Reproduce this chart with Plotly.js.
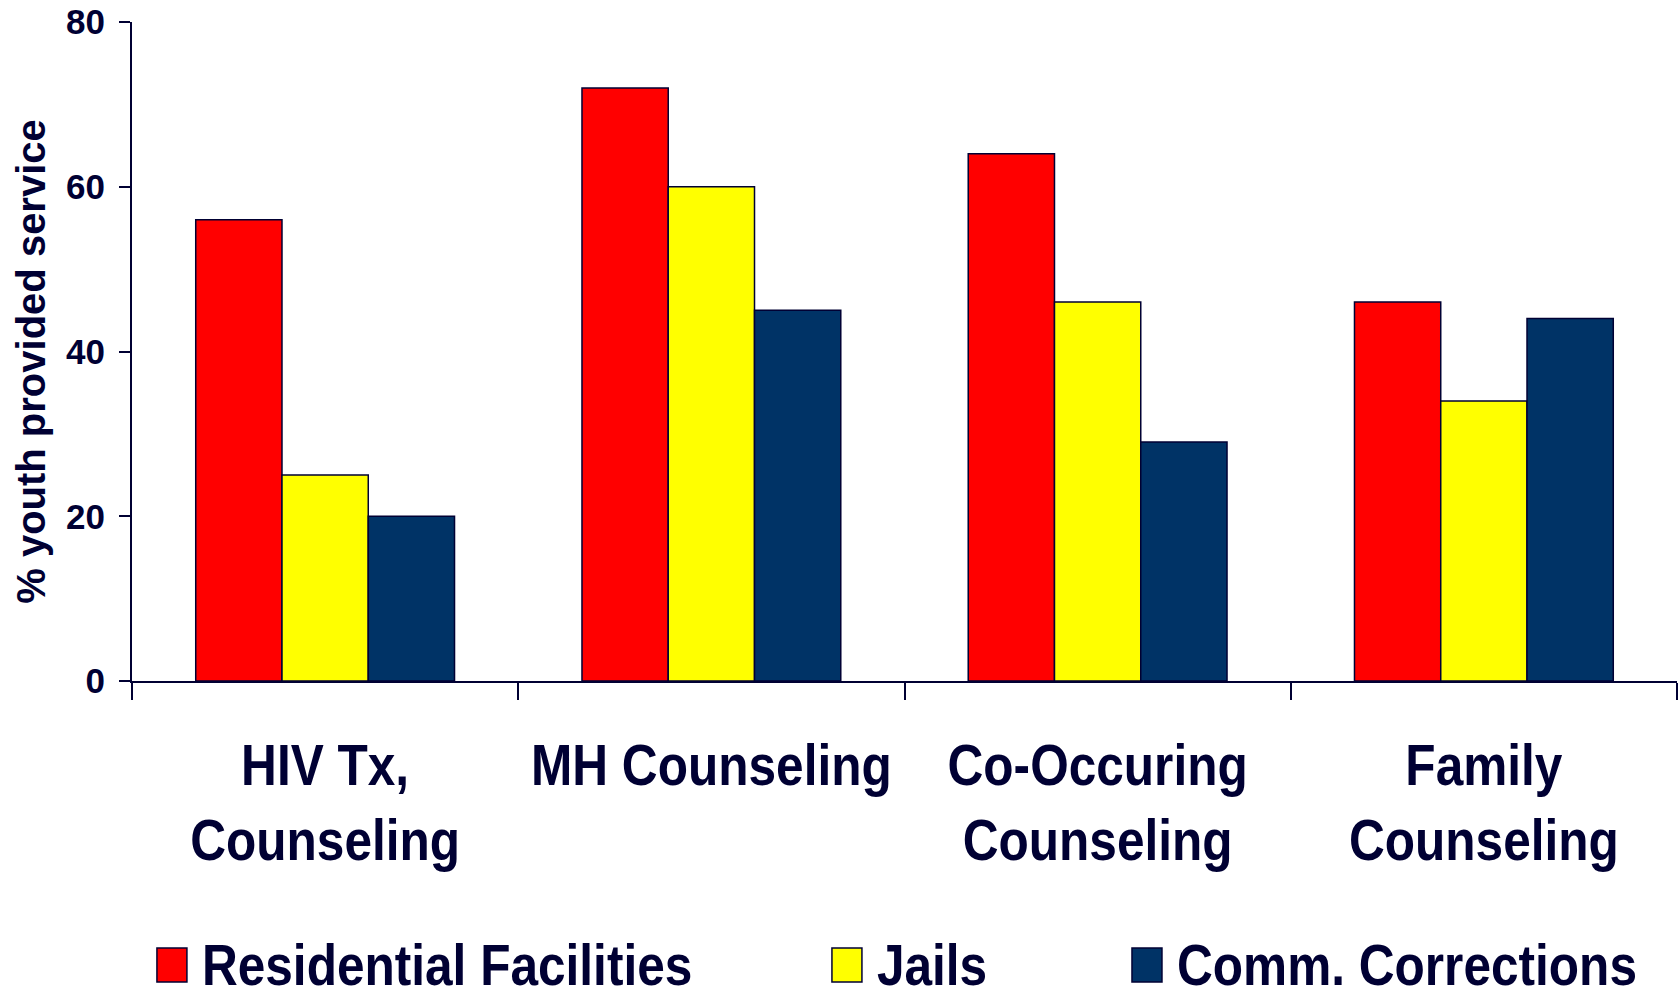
<!DOCTYPE html>
<html>
<head>
<meta charset="utf-8">
<script src="https://cdn.plot.ly/plotly-3.0.1.min.js"></script>
<style>
  html, body { margin: 0; padding: 0; background: #ffffff; }
  #chart { width: 1679px; height: 990px; }
  /* narrower set for the legend entries */
  #chart .legendtext,
  #chart .legend2text,
  #chart .legend3text {
    transform-box: fill-box;
    transform-origin: 0 50%;
    transform: scaleX(0.855);
  }
</style>
</head>
<body>
<div id="chart"></div>
<script>
// Services provided to youth, by setting (% of youth)
const categories = ['HIV Tx,<br>Counseling', 'MH Counseling', 'Co-Occuring<br>Counseling', 'Family<br>Counseling'];
const residential = [56, 72, 64, 46];
const jails = [25, 60, 46, 34];
const commCorrections = [20, 45, 29, 44];
const seriesNames = ['Residential Facilities', 'Jails', 'Comm. Corrections'];
const yTicks = [0, 20, 40, 60, 80];

const INK = '#000033';
const FONT = 'Arial, "Liberation Sans", sans-serif';
const CONDENSE = 0.855; // horizontal squeeze for the category labels

function barTrace(name, values, color, legendId) {
  return {
    type: 'bar',
    name: name,
    x: categories,
    y: values,
    legend: legendId,
    marker: { color: color, line: { color: INK, width: 1.5 } },
    hoverinfo: 'x+y+name'
  };
}

const data = [
  barTrace(seriesNames[0], residential, '#FF0000', 'legend'),
  barTrace(seriesNames[1], jails, '#FFFF00', 'legend2'),
  barTrace(seriesNames[2], commCorrections, '#003366', 'legend3')
];

const legendBase = {
  orientation: 'h',
  yanchor: 'middle',
  y: -0.4267,
  xanchor: 'left',
  itemwidth: 40,
  bgcolor: 'rgba(0,0,0,0)',
  font: { family: FONT, size: 58, weight: 700, color: INK }
};

const layout = {
  width: 1679,
  height: 990,
  paper_bgcolor: '#ffffff',
  plot_bgcolor: '#ffffff',
  margin: { l: 132, r: 2, t: 22, b: 309, autoexpand: false },
  barmode: 'group',
  bargap: 0.33,
  bargroupgap: 0,
  showlegend: true,
  legend: Object.assign({}, legendBase, { x: 0.0129 }),
  legend2: Object.assign({}, legendBase, { x: 0.4498 }),
  legend3: Object.assign({}, legendBase, { x: 0.6440 }),
  xaxis: {
    type: 'category',
    range: [-0.5, 3.5],
    tickson: 'boundaries',
    tickangle: 0,
    ticks: 'outside',
    ticklen: 17,
    tickwidth: 2,
    tickcolor: INK,
    showline: true,
    linecolor: INK,
    linewidth: 2,
    showgrid: false,
    zeroline: false,
    ticklabelstandoff: 32,
    tickfont: { family: FONT, size: 58, weight: 700, color: INK },
    automargin: false,
    fixedrange: true
  },
  yaxis: {
    range: [0, 80],
    tickvals: yTicks,
    ticktext: yTicks.map(String),
    ticks: 'outside',
    ticklen: 11,
    tickwidth: 2,
    tickcolor: INK,
    showline: true,
    linecolor: INK,
    linewidth: 2,
    showgrid: false,
    zeroline: false,
    ticklabelstandoff: 7,
    tickfont: { family: FONT, size: 35, weight: 700, color: INK },
    title: {
      text: '% youth provided service',
      standoff: 8,
      font: { family: FONT, size: 40, weight: 700, color: INK }
    },
    automargin: false,
    fixedrange: true
  }
};

const SQUEEZE_RE = / translate\([^)]*\) scale\([^)]*\) translate\([^)]*\)$/;
const NUDGE_RE = / translate\(-10,0\)$/;

// squeeze a text element horizontally about its own x anchor
function condense(el) {
  const cx = parseFloat(el.getAttribute('x')) || 0;
  const base = (el.getAttribute('transform') || '').replace(SQUEEZE_RE, '');
  el.setAttribute('transform',
    base + ' translate(' + cx + ',0) scale(' + CONDENSE + ',1) translate(' + (-cx) + ',0)');
}

function touchUp() {
  // larger legend swatches
  document.querySelectorAll('.legendpoints path').forEach(function (p) {
    p.setAttribute('d', 'M10,20H-20V-14H10Z');
  });
  document.querySelectorAll('.xtick text').forEach(condense);
  // y title sits slightly below the plot's middle
  document.querySelectorAll('.ytitle').forEach(function (t) {
    const base = (t.getAttribute('transform') || '').replace(NUDGE_RE, '');
    t.setAttribute('transform', base + ' translate(-10,0)');
  });
}

const gd = document.getElementById('chart');
Plotly.newPlot(gd, data, layout, { displayModeBar: false, staticPlot: true }).then(function () {
  touchUp();
  gd.on('plotly_afterplot', touchUp);
  setTimeout(touchUp, 50);
});
</script>
</body>
</html>
